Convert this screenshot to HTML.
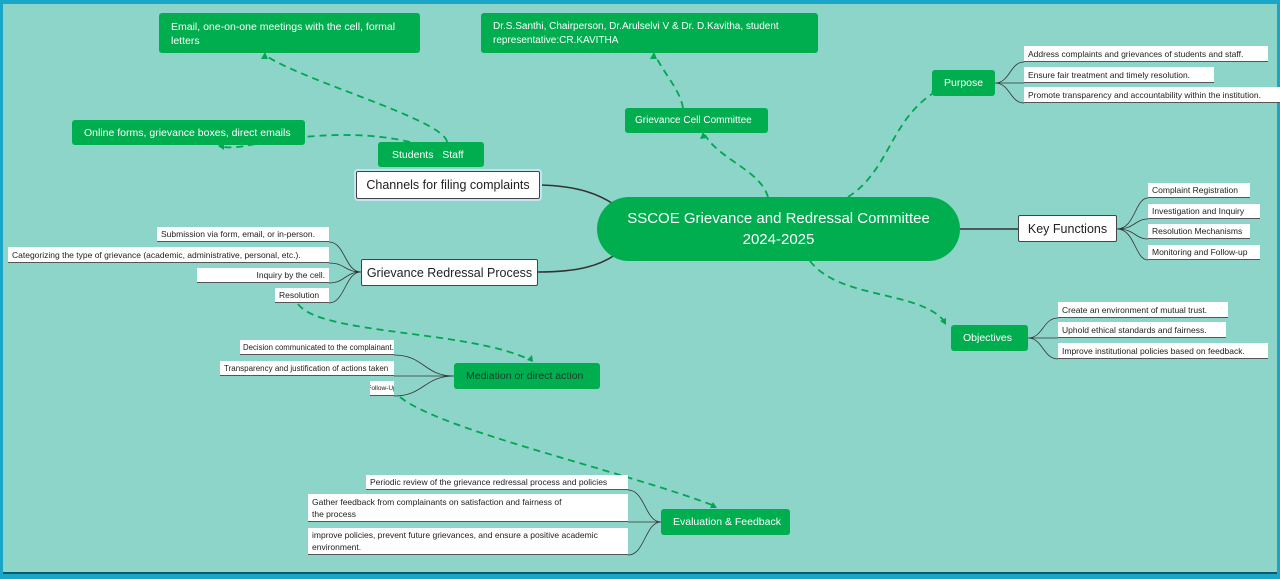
<!DOCTYPE html>
<html><head><meta charset="utf-8"><style>
*{margin:0;padding:0;box-sizing:border-box}
body{width:1280px;height:579px;overflow:hidden;background:#1aa6c8;font-family:"Liberation Sans",sans-serif;position:relative}
#bg{position:absolute;left:3px;top:4px;width:1274px;height:570px;background:#8dd4c9;border-bottom:2px solid #0d5a6a}
.b{position:absolute;display:flex;align-items:center;white-space:nowrap;overflow:hidden}
.g{background:#00ae4f;color:#fff;border-radius:3px;font-size:10.5px;padding:0 12px}
.w{background:#fff;color:#222;font-size:8.5px;padding:0 4px;border-bottom:1px solid #555}
.m{background:#fff;color:#222;border:1.5px solid #444;border-radius:2px;font-size:12.5px;justify-content:center}
svg{position:absolute;left:0;top:0}
</style></head><body>
<div id="bg"></div>
<svg width="1280" height="579">
<g fill="none" stroke="#333" stroke-width="1.6">
<path d="M540 185 C580 186 600 195 615 205"/>
<path d="M538 272 C580 272 600 265 615 255"/>
<path d="M960 229 L1018 229"/>
</g>
<g fill="none" stroke="#333" stroke-width="0.8">
<path d="M1117 229 C1135 229 1135 198 1148 198 M1117 229 C1135 229 1135 219 1148 219 M1117 229 C1135 229 1135 239 1148 239 M1117 229 C1135 229 1135 260 1148 260"/>
<path d="M995 83 C1010 83 1010 62 1024 62 M995 83 L1024 83 M995 83 C1010 83 1010 103 1024 103"/>
<path d="M1028 338 C1043 338 1043 318 1058 318 M1028 338 C1043 338 1043 338 1058 338 M1028 338 C1043 338 1043 359 1058 359"/>
<path d="M361 272 C345 272 345 242 329 242 M361 272 C345 272 345 263 329 263 M361 272 C345 272 345 283 329 283 M361 272 C345 272 345 303 329 303"/>
<path d="M454 376 C424 376 424 355 394 355 M454 376 L394 376 M454 376 C424 376 424 396 394 396"/>
<path d="M661 522 C645 522 645 490 628 490 M661 522 L628 522 M661 522 C645 522 645 555 628 555"/>
</g>
<g fill="none" stroke="#00a650" stroke-width="1.8" stroke-dasharray="7,5">
<path d="M447 142 C445 120 300 80 265 55"/>
<path d="M410 142 C360 130 300 135 250 145 C235 148 225 148 220 146"/>
<path d="M768 197 C760 170 720 160 705 135"/>
<path d="M683 108 C680 90 665 75 655 55"/>
<path d="M848 197 C890 170 890 120 935 92"/>
<path d="M810 261 C840 300 920 290 945 322"/>
<path d="M298 304 C320 335 470 330 530 360"/>
<path d="M400 397 C440 430 620 470 715 506"/>
</g>
<g fill="#00a650">
<path d="M265 52 l-4 7 l7 0z"/><path d="M218 146 l6 -4 l0 8z"/><path d="M703 132 l-3 7 l7 -1z"/><path d="M654 52 l-4 7 l7 0z"/><path d="M938 89 l-7 2 l4 5z"/><path d="M946 325 l-6 -4 l6 -3z"/><path d="M533 362 l-6 -2 l5 -5z"/><path d="M717 508 l-7 0 l3 -6z"/>
</g>
</svg>
<div class="b g" style="left:159px;top:13px;width:261px;height:40px;align-items:flex-start;padding-top:7px;white-space:normal;line-height:14px">Email, one-on-one meetings with the cell, formal letters</div>
<div class="b g" style="left:481px;top:13px;width:337px;height:40px;align-items:flex-start;padding-top:7px;white-space:normal;line-height:14px;font-size:10px">Dr.S.Santhi, Chairperson, Dr.Arulselvi V &amp; Dr. D.Kavitha, student representative:CR.KAVITHA</div>
<div class="b g" style="left:72px;top:120px;width:233px;height:25px">Online forms, grievance boxes, direct emails</div>
<div class="b g" style="left:378px;top:142px;width:106px;height:25px;padding:0 14px">Students&nbsp;&nbsp;&nbsp;Staff</div>
<div class="b m" style="left:356px;top:171px;width:184px;height:28px;box-shadow:0 0 0 2px #c5e6f0">Channels for filing complaints</div>
<div class="b g" style="left:625px;top:108px;width:143px;height:25px;padding:0 10px;font-size:10px">Grievance Cell Committee</div>
<div class="b g" style="left:597px;top:197px;width:363px;height:64px;border-radius:32px;font-size:15px;justify-content:center;text-align:center;white-space:normal;line-height:21px">SSCOE Grievance and Redressal Committee<br>2024-2025</div>
<div class="b g" style="left:932px;top:70px;width:63px;height:26px">Purpose</div>
<div class="b w" style="left:1024px;top:46px;width:244px;height:16px">Address complaints and grievances of students and staff.</div>
<div class="b w" style="left:1024px;top:67px;width:190px;height:16px">Ensure fair treatment and timely resolution.</div>
<div class="b w" style="left:1024px;top:87px;width:256px;height:16px">Promote transparency and accountability within the institution.</div>
<div class="b m" style="left:1018px;top:215px;width:99px;height:27px">Key Functions</div>
<div class="b w" style="left:1148px;top:183px;width:102px;height:15px">Complaint Registration</div>
<div class="b w" style="left:1148px;top:204px;width:112px;height:15px">Investigation and Inquiry</div>
<div class="b w" style="left:1148px;top:224px;width:102px;height:15px">Resolution Mechanisms</div>
<div class="b w" style="left:1148px;top:245px;width:112px;height:15px">Monitoring and Follow-up</div>
<div class="b g" style="left:951px;top:325px;width:77px;height:26px">Objectives</div>
<div class="b w" style="left:1058px;top:302px;width:170px;height:16px">Create an environment of mutual trust.</div>
<div class="b w" style="left:1058px;top:322px;width:168px;height:16px">Uphold ethical standards and fairness.</div>
<div class="b w" style="left:1058px;top:343px;width:210px;height:16px">Improve institutional policies based on feedback.</div>
<div class="b m" style="left:361px;top:259px;width:177px;height:27px">Grievance Redressal Process</div>
<div class="b w" style="left:157px;top:227px;width:172px;height:15px">Submission via form, email, or in-person.</div>
<div class="b w" style="left:8px;top:247px;width:321px;height:16px">Categorizing the type of grievance (academic, administrative, personal, etc.).</div>
<div class="b w" style="left:197px;top:268px;width:132px;height:15px;justify-content:flex-end">Inquiry by the cell.</div>
<div class="b w" style="left:275px;top:288px;width:54px;height:15px">Resolution</div>
<div class="b g" style="left:454px;top:363px;width:146px;height:26px;color:#1a3a2a">Mediation or direct action</div>
<div class="b w" style="left:240px;top:340px;width:154px;height:15px;font-size:7.8px;padding:0 3px">Decision communicated to the complainant.</div>
<div class="b w" style="left:220px;top:361px;width:174px;height:15px;font-size:8px">Transparency and justification of actions taken</div>
<div class="b w" style="left:370px;top:381px;width:24px;height:15px;padding:0;font-size:6.5px;justify-content:center">Follow-Up</div>
<div class="b g" style="left:661px;top:509px;width:129px;height:26px">Evaluation &amp; Feedback</div>
<div class="b w" style="left:366px;top:475px;width:262px;height:15px">Periodic review of the grievance redressal process and policies</div>
<div class="b w" style="left:308px;top:494px;width:320px;height:28px;white-space:normal;line-height:12px;padding-right:60px">Gather feedback from complainants on satisfaction and fairness of the process</div>
<div class="b w" style="left:308px;top:528px;width:320px;height:27px;white-space:normal;line-height:12px">improve policies, prevent future grievances, and ensure a positive academic environment.</div>
</body></html>
